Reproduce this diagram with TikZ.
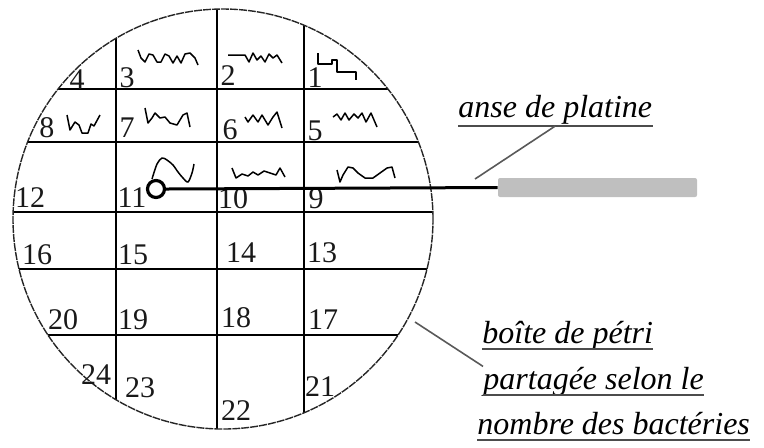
\documentclass[tikz,border=0pt]{standalone}
\usepackage{fontspec}
\setmainfont{Liberation Serif}
\usetikzlibrary{positioning}

\tikzset{
  grille/.style={line width=0.75pt},
  bord/.style={line width=0.7pt, black!85, dash pattern=on 4pt off 0.5pt},
  colonie/.style={line width=0.75pt, line join=round},
  chiffre/.style={font=\fontsize{15}{18}\selectfont, text=black!90, inner sep=0pt},
  legende/.style={font=\fontsize{16}{20}\selectfont\itshape, inner sep=0pt, anchor=base west},
  souligne/.style={line width=1.2pt, black!70},
  trait/.style={line width=0.8pt, black!65},
  fil/.style={line width=1.5pt},
  boucle/.style={circle, draw, line width=1.6pt, minimum size=8.5pt, inner sep=0pt},
  manche/.style={fill=black!25, rounded corners=1pt, minimum width=99.5pt, minimum height=9.5pt, inner sep=0pt},
}

\begin{document}
\begin{tikzpicture}[x=0.5pt,y=-0.5pt]
\useasboundingbox (0,0) rectangle (764,447);

% la boite et ses cases
\coordinate (centre) at (223,219);
\begin{scope}
\clip (centre) circle[radius=105pt];
\foreach \x in {116,217,304}
  \draw[grille] (\x,0) -- (\x,447);
\foreach \y in {89,142,212,269,335}
  \draw[grille] (0,\y) -- (450,\y);
\end{scope}
\draw[bord] (centre) circle[radius=105pt];

% numeros des cases
\foreach \n/\x/\y in {1/315/78, 2/228/76, 3/127/78, 4/77/80,
    5/315/131, 6/230/130, 7/127/128, 8/47/128,
    9/316/199, 10/233/199, 11/132/198, 12/30/198,
    13/322/253, 14/241/253, 15/133/255, 16/37/255,
    17/323/320, 18/236/318, 19/133/320, 20/63/320,
    21/320/387, 22/236/411, 23/140/388, 24/96/375}
  \node[chiffre] (c\n) at (\x,\y) {\n};

% stries des colonies
\draw[colonie] (318,53) -- (318,64) -- (332,64) -- (332,60) -- (337,60) -- (337,72) -- (356,72) -- (356,80);
\draw[colonie] (228,55) -- (245,55) -- (249,62) -- (253,53) -- (257,60) -- (261,56) -- (265,62) -- (269,54) -- (273,58) -- (277,55) -- (282,63);
\draw[colonie] (138,50) -- (141,58) -- (145,62) -- (149,54) -- (153,55) -- (157,62) -- (161,62) -- (165,54) -- (169,56) -- (173,63) -- (177,56) -- (181,63) -- (185,54) -- (190,53) -- (195,58) -- (198,65);
\draw[colonie] (67,115) -- (70,130) -- (75,122) -- (79,125) -- (82,133) -- (88,133) -- (91,124) -- (94,126) -- (100,115);
\draw[colonie] (145,108) -- (148,123) -- (152,118) -- (155,113) -- (160,118) -- (165,117) -- (170,123) -- (177,125) -- (183,115) -- (187,113) -- (190,127);
\draw[colonie] (245,117) -- (248,122) -- (253,115) -- (258,122) -- (262,115) -- (265,120) -- (268,125) -- (273,117) -- (277,112) -- (282,128);
\draw[colonie] (333,117) -- (337,114) -- (341,120) -- (345,113) -- (349,120) -- (354,114) -- (358,118) -- (362,113) -- (366,122) -- (371,113) -- (377,127);
\draw[colonie] plot[smooth] coordinates {(152,179) (157,164) (162,158) (167,160) (173,165) (178,172) (183,178) (188,182) (192,173) (194,164)};
\draw[colonie] (232,168) -- (236,178) -- (242,174) -- (248,176) -- (253,172) -- (258,175) -- (264,171) -- (270,173) -- (276,175) -- (280,168) -- (285,177);
\draw[colonie] (337,170) -- (340,182) -- (343,175) -- (348,167) -- (353,168) -- (358,173) -- (365,178) -- (373,178) -- (380,173) -- (387,168) -- (392,167) -- (395,178);

% anse de platine
\node[manche] (manche) at (597.5,187.5) {};
\node[boucle] (boucle) at (156,189) {};
\draw[fil] (boucle.east) -- (manche.west);

% legendes
\node[legende] (anse) at (458,117) {anse de platine};
\draw[souligne] ([yshift=-4.5pt]anse.base west) -- ([yshift=-4.5pt]anse.base east);
\coordinate (pointe) at (475,179);
\draw[trait] ([yshift=-4.5pt]anse.base) -- (pointe);

\node[legende] (pet1) at (482,343) {boîte de pétri};
\node[legende] (pet2) at (483,389) {partagée selon le};
\node[legende] (pet3) at (477,434) {nombre des bactéries};
\foreach \l in {pet1,pet2,pet3}
  \draw[souligne] ([yshift=-3pt]\l.base west) -- ([yshift=-3pt]\l.base east);
\coordinate (bord) at (415,322);
\draw[trait] (bord) -- (pet2.north west);
\end{tikzpicture}
\end{document}
